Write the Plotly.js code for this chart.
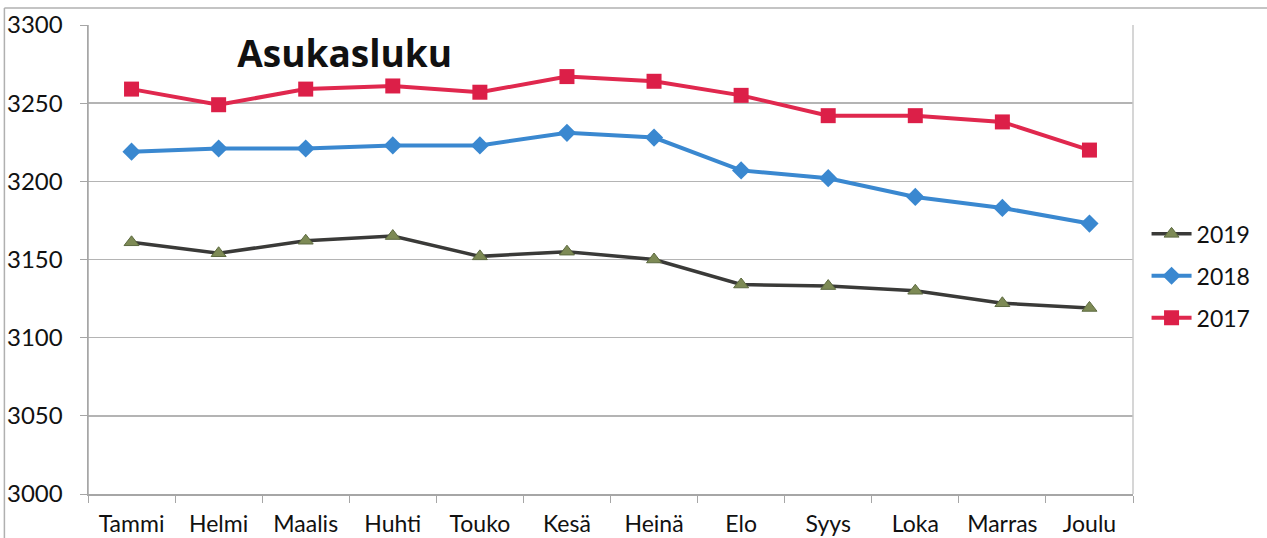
<!DOCTYPE html>
<html>
<head>
<meta charset="utf-8">
<script src="https://cdn.plot.ly/plotly-3.0.1.min.js"></script>
<style>html,body{margin:0;padding:0;background:#fff;}#chart{width:1267px;height:538px;}</style>
</head>
<body>
<div id="chart"></div>
<script>
const months = ["Tammi","Helmi","Maalis","Huhti","Touko","Kesä","Heinä","Elo","Syys","Loka","Marras","Joulu"];
const v2019 = [3161,3154,3162,3165,3152,3155,3150,3134,3133,3130,3122,3119];
const v2018 = [3219,3221,3221,3223,3223,3231,3228,3207,3202,3190,3183,3173];
const v2017 = [3259,3249,3259,3261,3257,3267,3264,3255,3242,3242,3238,3220];
const yTicks = [3000,3050,3100,3150,3200,3250,3300];

const traces = [
  {x: months, y: v2019, name: "2019", legendgroup: "a", type: "scatter", mode: "lines+markers",
   line: {color: "#3a3a38", width: 3.5},
   marker: {symbol: "triangle-up", size: 13, color: "#7d8a55", line: {color: "#5d6a40", width: 1}}},
  {x: months, y: v2018, name: "2018", legendgroup: "b", type: "scatter", mode: "lines+markers",
   line: {color: "#3a88d0", width: 4},
   marker: {symbol: "diamond", size: 14, color: "#3a88d0"}},
  {x: months, y: v2017, name: "2017", legendgroup: "c", type: "scatter", mode: "lines+markers",
   line: {color: "#e0284e", width: 4},
   marker: {symbol: "square", size: 15, color: "#dc1f48"}}
];

const layout = {
  width: 1267, height: 538,
  margin: {l: 88, r: 133, t: 25, b: 44},
  paper_bgcolor: "#ffffff", plot_bgcolor: "#ffffff",
  font: {family: "Lato, 'Open Sans', sans-serif", size: 24, color: "#1a1a1a"},
  title: {text: "<b>Asukasluku</b>", font: {family: "'Open Sans', Lato, sans-serif", size: 37, color: "#111"},
          xref: "paper", x: 0.2457, xanchor: "center", yref: "container", y: 0.9, yanchor: "middle"},
  showlegend: true,
  legend: {x: 1.012, xanchor: "left", y: 0.465, yanchor: "middle", font: {size: 23, color: "#111"},
           tracegroupgap: 9, itemwidth: 40, bgcolor: "rgba(0,0,0,0)"},
  xaxis: {type: "category", categoryarray: months, range: [-0.5, 11.5], tickson: "boundaries",
          showline: true, linecolor: "#a6a6a6", linewidth: 1.5,
          ticks: "outside", ticklen: 7, tickcolor: "#a6a6a6",
          showgrid: false, zeroline: false, ticklabelstandoff: 9,
          tickfont: {size: 23, color: "#111"}},
  yaxis: {range: [3000, 3300], tickvals: yTicks, ticktext: yTicks.map(String),
          showline: true, linecolor: "#a6a6a6", linewidth: 1.5,
          ticks: "outside", ticklen: 7, tickcolor: "#a6a6a6",
          showgrid: true, gridcolor: "#b4b4b4", gridwidth: 1.5, zeroline: false,
          ticklabelstandoff: 12, tickfont: {size: 24, color: "#111"}},
  shapes: [
    {type: "line", xref: "paper", yref: "paper", x0: 0, x1: 0, y0: 0, y1: 1, line: {color: "#a6a6a6", width: 1.5}},
    {type: "line", xref: "paper", yref: "paper", x0: 1, x1: 1, y0: 0, y1: 1, line: {color: "#c8c8c8", width: 1.5}},
    {type: "line", xref: "paper", yref: "paper", x0: -0.08, x1: 1.13, y0: 1.036, y1: 1.036, line: {color: "#b0b0b0", width: 1.5}},
    {type: "line", xref: "paper", yref: "paper", x0: -0.08, x1: -0.08, y0: -0.1, y1: 1.036, line: {color: "#b0b0b0", width: 1.5}}
  ]
};

Plotly.newPlot("chart", traces, layout, {displayModeBar: false, staticPlot: true});
</script>
</body>
</html>
